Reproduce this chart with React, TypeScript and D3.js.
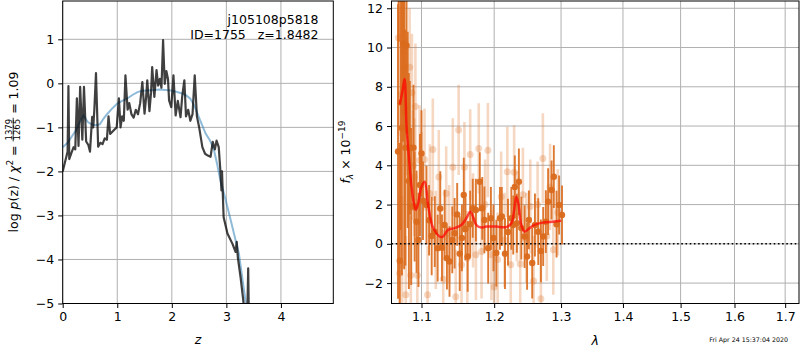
import React, { useEffect, useRef } from "react";
import * as d3 from "d3";

// p(z) curve (dark) and template fit (blue)
const zGrid = [0, 0.03, 0.06, 0.09, 0.105, 0.12, 0.16, 0.2, 0.23, 0.26, 0.29, 0.32, 0.36, 0.39, 0.43, 0.47, 0.5, 0.54, 0.56, 0.58, 0.61, 0.65, 0.69, 0.73, 0.77, 0.81, 0.84, 0.87, 0.91, 0.95, 0.99, 1.03, 1.06, 1.09, 1.12, 1.15, 1.19, 1.22, 1.26, 1.3, 1.34, 1.38, 1.42, 1.46, 1.5, 1.53, 1.55, 1.59, 1.62, 1.64, 1.68, 1.72, 1.75, 1.78, 1.81, 1.84, 1.87, 1.9, 1.93, 1.95, 1.99, 2.03, 2.07, 2.11, 2.16, 2.19, 2.23, 2.26, 2.3, 2.34, 2.38, 2.42, 2.46, 2.5, 2.56, 2.61, 2.66, 2.71, 2.75, 2.79, 2.82, 2.86, 2.89, 2.91, 2.92, 2.95, 3.02, 3.11, 3.17, 3.19, 3.21, 3.26, 3.31, 3.35, 3.38, 3.4, 3.42, 3.5, 4.0, 4.96];
const logPz = [-2.0, -1.85, -1.7, -1.55, -0.06, -1.72, -1.58, -1.45, -1.5, -0.34, -1.42, -0.08, -1.28, -0.08, -1.32, -1.4, -1.55, -0.76, -1.0, -0.6, 0.23, -1.44, -1.35, -1.38, -1.25, -1.28, -0.75, -1.15, -1.1, -1.05, -1.0, -0.34, -1.0, -0.75, -0.85, 0.18, -0.6, -0.45, -0.7, -0.78, -0.6, -0.7, -0.45, 0.03, -0.69, -0.3, 0.07, -0.63, -0.2, 0.37, -0.31, 0.3, -0.05, 0.1, -0.1, 0.98, -0.01, 0.28, 0.1, -0.39, -0.54, 0.18, -0.73, -0.4, -0.77, -0.3, 0.07, -0.75, -0.6, -0.85, -0.7, 0.18, -0.75, -0.99, -1.45, -1.6, -1.64, -1.67, -1.33, -1.5, -1.3, -1.45, -1.98, -2.43, -2.0, -3.04, -3.41, -3.64, -3.83, -3.6, -3.95, -4.4, -4.93, -5.6, -5.5, -4.2, -6.0, -7.5, -10, -12];

const zModel = [0, 0.09, 0.17, 0.24, 0.31, 0.38, 0.46, 0.53, 0.6, 0.68, 0.75, 0.82, 0.9, 1.0, 1.09, 1.18, 1.27, 1.37, 1.46, 1.55, 1.67, 1.79, 1.88, 1.98, 2.08, 2.19, 2.27, 2.34, 2.41, 2.47, 2.55, 2.62, 2.7, 2.77, 2.83, 2.89, 2.99, 3.08, 3.17, 3.23, 3.29, 3.35, 3.4, 3.5, 4.96];
const logPzModel = [-1.45, -1.35, -1.2, -1.07, -0.88, -0.73, -0.88, -0.93, -0.95, -0.93, -0.8, -0.69, -0.58, -0.46, -0.4, -0.35, -0.27, -0.2, -0.17, -0.16, -0.15, -0.14, -0.15, -0.16, -0.19, -0.23, -0.28, -0.35, -0.5, -0.69, -0.93, -1.14, -1.3, -1.5, -1.83, -2.2, -2.66, -3.11, -3.57, -3.87, -4.4, -4.93, -5.4, -6.2, -12];

// spectrum points used in the fit
const lamFit = [1.0695, 1.0705, 1.0718, 1.073, 1.0745, 1.076, 1.0775, 1.079, 1.0805, 1.082, 1.0835, 1.0848, 1.0865, 1.0895, 1.091, 1.0935, 1.096, 1.098, 1.1, 1.102, 1.1066, 1.11, 1.1135, 1.1176, 1.1215, 1.125, 1.1273, 1.1309, 1.134, 1.1375, 1.1413, 1.1445, 1.148, 1.1515, 1.1545, 1.1571, 1.1595, 1.1625, 1.166, 1.1696, 1.174, 1.1795, 1.183, 1.186, 1.1914, 1.1953, 1.199, 1.2031, 1.2083, 1.211, 1.2156, 1.22, 1.2249, 1.2277, 1.23, 1.233, 1.236, 1.2396, 1.2445, 1.2482, 1.2509, 1.2559, 1.26, 1.265, 1.269, 1.2725, 1.2765, 1.28, 1.2853, 1.2888, 1.293, 1.297, 1.3015];
const fluxFit = [4.7, 15.5, -0.86, 7.2, 5.9, 10.2, 6.7, 4.9, 10.1, 5.8, 3.2, 4.9, 1.9, 4.9, 1.9, 1.13, 0.2, 3.0, 4.6, 2.2, 1.98, 1.2, 0.4, 0.62, -0.22, 1.8, -0.2, 0.96, -0.73, -0.9, 0.2, 0.54, 1.5, -0.5, 0.3, 2.49, 0.76, -0.64, 1.0, 1.81, 1.72, 3.16, 1.81, 1.22, -0.22, 1.3, 0.3, -0.47, 1.3, 1.39, -0.5, 0.6, 1.3, 0.96, 2.9, 1.05, 3.16, 0.8, 0.37, -0.64, 1.22, -0.98, 0.96, 0.62, -0.36, 0.37, 1.13, 2.15, 2.74, 3.42, 1.0, 1.98, 1.47];
const errFit = [7.5, 5.2, 6.0, 6.5, 7.5, 5.0, 8.0, 6.0, 4.5, 5.0, 5.5, 3.4, 4.0, 3.2, 2.8, 2.6, 2.4, 2.6, 2.2, 2.0, 2.0, 1.8, 2.0, 1.8, 1.7, 1.9, 1.7, 1.8, 1.6, 1.8, 1.7, 1.8, 1.6, 1.9, 1.7, 1.9, 1.6, 1.8, 1.7, 1.5, 1.6, 1.5, 1.6, 1.7, 1.8, 1.6, 1.7, 1.7, 1.6, 1.5, 1.8, 1.7, 1.6, 1.5, 1.6, 1.5, 1.7, 1.6, 1.6, 1.7, 1.5, 1.8, 1.6, 1.7, 1.6, 1.5, 1.6, 1.7, 1.5, 1.6, 1.7, 1.5, 1.5];

// faded points (full resolution spectrum)
const lamRaw = [1.07, 1.0715, 1.073, 1.0748, 1.0765, 1.078, 1.0795, 1.081, 1.0828, 1.0845, 1.086, 1.0875, 1.089, 1.0905, 1.092, 1.0945, 1.0975, 1.1, 1.104, 1.108, 1.111, 1.115, 1.119, 1.123, 1.129, 1.133, 1.137, 1.142, 1.146, 1.15, 1.154, 1.158, 1.162, 1.166, 1.17, 1.174, 1.178, 1.182, 1.187, 1.191, 1.196, 1.2, 1.205, 1.21, 1.215, 1.219, 1.224, 1.229, 1.233, 1.238, 1.242, 1.247, 1.253, 1.258, 1.264, 1.269, 1.272, 1.278, 1.283, 1.288, 1.295];
const fluxRaw = [10.5, -1.5, 7.6, -1.07, 9.8, 9.0, -2.6, 7.0, 4.2, 9.0, -1.6, 7.7, 4.0, 3.4, 7.0, -1.6, 4.26, 3.0, 4.3, -2.6, 2.57, 4.8, 0.2, 3.4, -1.8, 2.57, 0.5, 3.9, -2.7, 5.8, -1.07, 3.9, -0.73, 4.55, 1.2, -0.56, 4.86, -0.39, 2.0, 4.77, -0.56, -2.2, -0.8, 2.4, 0.2, 3.67, -1.07, 3.64, 1.4, -1.03, 2.5, 0.3, 1.9, -1.9, 2.0, -2.8, 4.35, 0.4, 2.9, -0.3, 1.6];
const errRaw = [5.0, 4.0, 4.5, 3.5, 4.0, 3.5, 3.0, 3.5, 3.0, 3.0, 3.0, 3.0, 2.8, 3.0, 3.2, 2.8, 2.8, 2.7, 2.6, 2.5, 2.5, 2.6, 2.5, 2.4, 2.5, 2.4, 2.5, 2.5, 2.4, 2.3, 2.4, 2.3, 2.4, 2.3, 2.4, 2.3, 2.3, 2.4, 2.3, 2.4, 2.3, 2.3, 2.4, 2.3, 2.4, 2.3, 2.3, 2.4, 2.3, 2.3, 2.4, 2.3, 2.4, 2.3, 2.2, 2.3, 2.3, 2.3, 2.2, 2.3, 2.2];

// best-fit template
const lamModel = [1.0718, 1.0753, 1.0779, 1.0805, 1.0839, 1.087, 1.09, 1.0926, 1.0956, 1.1, 1.1043, 1.1087, 1.1146, 1.1199, 1.1243, 1.1287, 1.1355, 1.1445, 1.1537, 1.1606, 1.1662, 1.1698, 1.1746, 1.1816, 1.1887, 1.2031, 1.2176, 1.2249, 1.2287, 1.2322, 1.2356, 1.2396, 1.2445, 1.2519, 1.2594, 1.272, 1.2872, 1.3002];
const fluxModel = [7.1, 7.8, 8.4, 5.95, 4.26, 2.9, 2.07, 1.73, 2.07, 2.9, 3.16, 1.98, 0.88, 0.54, 0.37, 0.37, 0.71, 0.8, 0.96, 1.3, 1.64, 1.39, 0.96, 0.83, 0.88, 0.88, 0.85, 1.05, 1.64, 2.4, 1.98, 0.96, 0.62, 0.8, 0.96, 1.08, 1.13, 1.17];

const zTicks = [0, 1, 2, 3, 4];
const lpTicks = [-5, -4, -3, -2, -1, 0, 1];
const lamTicks = [1.1, 1.2, 1.3, 1.4, 1.5, 1.6, 1.7];
const fluxTicks = [-2, 0, 2, 4, 6, 8, 10, 12];

const FONT = "DejaVu Sans, sans-serif";
const FS = 12.5;
const ORANGE = "#da6a1c";

const minus = (d: any) => String(d).replace("-", "\u2212");

const App: React.FC = () => {
    const svgRef = useRef<SVGSVGElement>(null);

    useEffect(() => {
        if (!svgRef.current) return;
        const svg = d3.select(svgRef.current);
        svg.selectAll("*").remove();

        const L = { x0: 62.7, x1: 333.3, y0: 1, y1: 303.5 };
        const R = { x0: 391.5, x1: 799, y0: 1, y1: 303.5 };

        const xz = d3.scaleLinear().domain([0, 4.96]).range([L.x0, L.x1]);
        const ylp = d3.scaleLinear().domain([-5, 1.87]).range([L.y1, L.y0]);
        const xl = d3.scaleLog().domain([1.0612, 1.7284]).range([R.x0, R.x1]);
        const yf = d3.scaleLinear().domain([-3.04, 12.37]).range([R.y1, R.y0]);

        const defs = svg.append("defs");
        [["clipL", L], ["clipR", R]].forEach(([id, b]: any) => {
            defs.append("clipPath").attr("id", id)
                .append("rect")
                .attr("x", b.x0).attr("y", b.y0)
                .attr("width", b.x1 - b.x0).attr("height", b.y1 - b.y0);
        });

        const drawAxes = (b: any, x: any, y: any, xt: number[], yt: number[], xfmt: any) => {
            const g = svg.append("g");
            // grid
            g.selectAll(".gx").data(xt).enter().append("line")
                .attr("x1", (d) => x(d)).attr("x2", (d) => x(d))
                .attr("y1", b.y0).attr("y2", b.y1)
                .attr("stroke", "#b0b0b0").attr("stroke-width", 1);
            g.selectAll(".gy").data(yt).enter().append("line")
                .attr("x1", b.x0).attr("x2", b.x1)
                .attr("y1", (d) => y(d)).attr("y2", (d) => y(d))
                .attr("stroke", "#b0b0b0").attr("stroke-width", 1);

            const ax = g.append("g")
                .attr("transform", `translate(0,${b.y1})`)
                .call(d3.axisBottom(x).tickValues(xt).tickFormat(xfmt).tickSize(4.5).tickPadding(4).tickSizeOuter(0));
            ax.select(".domain").remove();
            ax.selectAll("text").attr("font-size", FS).attr("font-family", FONT).attr("fill", "#000");

            const ay = g.append("g")
                .attr("transform", `translate(${b.x0},0)`)
                .call(d3.axisLeft(y).tickValues(yt).tickFormat(minus).tickSize(4.5).tickPadding(4).tickSizeOuter(0));
            ay.select(".domain").remove();
            ay.selectAll("text").attr("font-size", FS).attr("font-family", FONT).attr("fill", "#000");
            return g;
        };

        drawAxes(L, xz, ylp, zTicks, lpTicks, (d: any) => String(d));
        drawAxes(R, xl, yf, lamTicks, fluxTicks, (d: any) => d3.format(".1f")(d));

        // ---- left panel lines
        const pl = svg.append("g").attr("clip-path", "url(#clipL)");
        const lineL = d3.line<number>().x((d, i) => xz(zModel[i])).y((d) => ylp(d));
        pl.append("path")
            .attr("d", lineL(logPzModel))
            .attr("fill", "none").attr("stroke", "#1f77b4").attr("stroke-opacity", 0.5)
            .attr("stroke-width", 2);
        const lineP = d3.line<number>().x((d, i) => xz(zGrid[i])).y((d) => ylp(d));
        pl.append("path")
            .attr("d", lineP(logPz))
            .attr("fill", "none").attr("stroke", "#000").attr("stroke-opacity", 0.75)
            .attr("stroke-width", 2.2).attr("stroke-linejoin", "round");

        // ---- right panel
        const pr = svg.append("g").attr("clip-path", "url(#clipR)");
        // faded points
        pr.selectAll(".eb0").data(lamRaw).enter().append("line")
            .attr("x1", (d) => xl(d)).attr("x2", (d) => xl(d))
            .attr("y1", (d, i) => yf(fluxRaw[i] - errRaw[i]))
            .attr("y2", (d, i) => yf(fluxRaw[i] + errRaw[i]))
            .attr("stroke", ORANGE).attr("stroke-opacity", 0.27).attr("stroke-width", 2.6);
        pr.selectAll(".pt0").data(lamRaw).enter().append("circle")
            .attr("cx", (d) => xl(d)).attr("cy", (d, i) => yf(fluxRaw[i]))
            .attr("r", 3.5).attr("fill", ORANGE).attr("fill-opacity", 0.27);
        // fitted points
        pr.selectAll(".eb1").data(lamFit).enter().append("line")
            .attr("x1", (d) => xl(d)).attr("x2", (d) => xl(d))
            .attr("y1", (d, i) => yf(fluxFit[i] - errFit[i]))
            .attr("y2", (d, i) => yf(fluxFit[i] + errFit[i]))
            .attr("stroke", ORANGE).attr("stroke-opacity", 0.9).attr("stroke-width", 1.9);
        pr.selectAll(".pt1").data(lamFit).enter().append("circle")
            .attr("cx", (d) => xl(d)).attr("cy", (d, i) => yf(fluxFit[i]))
            .attr("r", 3.2).attr("fill", ORANGE).attr("fill-opacity", 0.95);
        // model
        const lineM = d3.line<number>().x((d, i) => xl(lamModel[i])).y((d) => yf(d)).curve(d3.curveCatmullRom);
        pr.append("path")
            .attr("d", lineM(fluxModel))
            .attr("fill", "none").attr("stroke", "red").attr("stroke-opacity", 0.7)
            .attr("stroke-width", 2.5);
        // zero line
        pr.append("line")
            .attr("x1", R.x0).attr("x2", R.x1)
            .attr("y1", yf(0)).attr("y2", yf(0))
            .attr("stroke", "#000").attr("stroke-width", 1.6)
            .attr("stroke-dasharray", "1.6,2.6");

        // frames
        [L, R].forEach((b) => {
            svg.append("rect")
                .attr("x", b.x0).attr("y", b.y0)
                .attr("width", b.x1 - b.x0).attr("height", b.y1 - b.y0)
                .attr("fill", "none").attr("stroke", "#000").attr("stroke-width", 1);
        });

        // annotation in left panel
        const ann = svg.append("text")
            .attr("font-family", FONT).attr("font-size", FS).attr("text-anchor", "end");
        ann.append("tspan").attr("x", 318.5).attr("y", 23.5).text("j105108p5818");
        ann.append("tspan").attr("x", 318.5).attr("y", 39).attr("xml:space", "preserve").text("ID=1755   z=1.8482");

        // x labels
        svg.append("text").attr("x", (L.x0 + L.x1) / 2).attr("y", 344)
            .attr("text-anchor", "middle").attr("font-family", FONT).attr("font-size", FS)
            .attr("font-style", "italic").text("z");
        svg.append("text").attr("x", (R.x0 + R.x1) / 2).attr("y", 345)
            .attr("text-anchor", "middle").attr("font-family", FONT).attr("font-size", FS)
            .attr("font-style", "italic").text("λ");

        // right y label
        const rl = svg.append("text")
            .attr("transform", "translate(350,152) rotate(-90)")
            .attr("text-anchor", "middle").attr("font-family", FONT).attr("font-size", FS);
        rl.append("tspan").attr("font-style", "italic").text("f");
        rl.append("tspan").attr("font-style", "italic").attr("font-size", 9).attr("dy", 3).text("λ");
        rl.append("tspan").attr("dy", -3).text(" × 10");
        rl.append("tspan").attr("font-size", 9).attr("dy", -5).text("\u221219");

        // left y label with fraction
        const gl = svg.append("g").attr("font-family", FONT).attr("font-size", FS);
        const t1 = gl.append("text").attr("x", 0).attr("y", 0);
        t1.append("tspan").text("log ");
        t1.append("tspan").attr("font-style", "italic").text("p");
        t1.append("tspan").text("(z) / ");
        t1.append("tspan").attr("font-style", "italic").text("χ");
        t1.append("tspan").attr("font-size", 9).attr("dy", -5).text("2");
        t1.append("tspan").attr("dy", 5).attr("xml:space", "preserve").text(" = ");
        const w1 = (t1.node() as SVGTextElement).getComputedTextLength();
        const num = gl.append("text").attr("font-size", 8.5).attr("text-anchor", "middle").attr("y", -6.5).text("1379");
        const wf = (num.node() as SVGTextElement).getComputedTextLength() + 2;
        num.attr("x", w1 + wf / 2);
        gl.append("text").attr("font-size", 8.5).attr("text-anchor", "middle")
            .attr("x", w1 + wf / 2).attr("y", 2).text("1265");
        gl.append("line").attr("x1", w1).attr("x2", w1 + wf)
            .attr("y1", -4.8).attr("y2", -4.8).attr("stroke", "#000").attr("stroke-width", 0.8);
        const t3 = gl.append("text").attr("x", w1 + wf).attr("y", 0)
            .attr("xml:space", "preserve").text(" = 1.09");
        const w3 = (t3.node() as SVGTextElement).getComputedTextLength();
        const total = w1 + wf + w3;
        gl.attr("transform", `translate(18,${152 + total / 2}) rotate(-90)`);

        // timestamp
        svg.append("text").attr("x", 788).attr("y", 341.5)
            .attr("text-anchor", "end").attr("font-family", FONT).attr("font-size", 6.3)
            .text("Fri Apr 24 15:37:04 2020");
    }, []);

    return (
        <svg
            ref={svgRef}
            width={800}
            height={350}
            style={{ position: "absolute", left: 0, top: 0, background: "#fff" }}
        />
    );
};

export default App;
